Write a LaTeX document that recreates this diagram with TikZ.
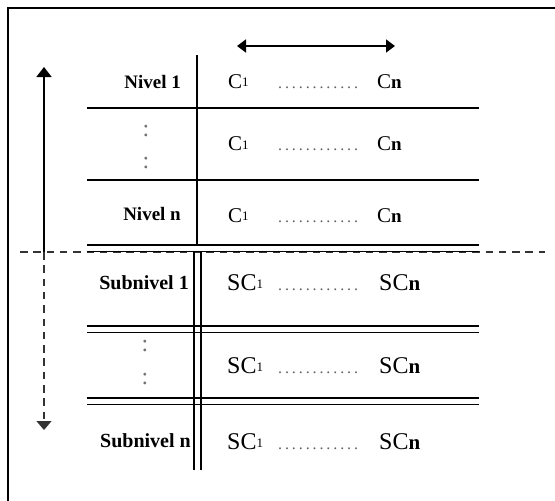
\documentclass[tikz,border=0pt]{standalone}
\usepackage{fontspec}
\setmainfont{Liberation Serif}
\usetikzlibrary{arrows.meta}
\newcommand\mysubone{\raisebox{1.2pt}{\fontsize{13}{13}\selectfont 1}}
\newcommand\mysubn{{\fontsize{19}{19}\selectfont\bfseries n}}
\newcommand\mysubnb{{\fontsize{21}{21}\selectfont\bfseries n}}
\newcommand\mydk{\kern2.9pt}
\newcommand\mydots{.\mydk.\mydk.\mydk.\mydk.\mydk.\mydk.\mydk.\mydk.\mydk.\mydk.\mydk.}
\begin{document}
\begin{tikzpicture}[x=1pt,y=-1pt,
  thickline/.style={line width=2pt},
  dblline/.style={line width=1.4pt},
  lbl/.style={anchor=base east, inner sep=0pt, font=\fontsize{19}{19}\selectfont\bfseries},
  sublbl/.style={anchor=base east, inner sep=0pt, font=\fontsize{20}{20}\selectfont\bfseries},
  ctext/.style={anchor=base west, inner sep=0pt, font=\fontsize{21}{21}\selectfont},
  sctext/.style={anchor=base west, inner sep=0pt, font=\fontsize{24}{24}\selectfont},
  dotrow/.style={anchor=base west, inner sep=0pt, text=black!62, font=\fontsize{16}{16}\selectfont},
  vdot/.style={anchor=base, inner sep=0pt, text=black!55, font=\fontsize{24}{24}\selectfont},
  tipend/.style={-{Triangle[length=10pt,width=15pt]}},
  dashline/.style={line width=1.4pt, draw=black!80, dash pattern=on 7.5pt off 5.8pt},
]
\useasboundingbox (0,0) rectangle (555,501);

% frame (top and left edges)
\draw[thickline] (555,8) -- (8,8) -- (8,501);

% horizontal dashed separator
\coordinate (dl) at (20,252);
\coordinate (dr) at (545,252);
\draw[dashline] (dl) -- (dr);

% vertical arrows
\coordinate (va) at (44,252);
\coordinate (vtop) at (44,67);
\coordinate (vbot) at (44,430);
\draw[line width=1.7pt, tipend] (va) -- (vtop);
\draw[dashline, -{Triangle[length=9pt,width=15pt]}] (va) -- (vbot);

% horizontal double arrow
\coordinate (ha) at (237,46);
\coordinate (hb) at (395,46);
\draw[line width=1.7pt, {Triangle[length=9pt,width=13pt]}-{Triangle[length=9pt,width=13pt]}] (ha) -- (hb);

% table lines: upper part
\draw[thickline] (196.5,55) -- (196.5,245);
\draw[thickline] (87,108) -- (479,108);
\draw[thickline] (87,180) -- (479,180);
% double lines
\foreach \yy in {245,326,398}{
  \draw[dblline] (87,\yy) -- (479,\yy);
  \draw[dblline] (87,\yy+6.5) -- (479,\yy+6.5);
}
\draw[dblline] (194,252) -- (194,470);
\draw[dblline] (201,252) -- (201,470);

% labels
\node[lbl] (n1) at (181,88) {Nivel 1};
\node[vdot] (v1a) at (146,136) {:};
\node[vdot] (v1b) at (146,168) {:};
\node[lbl] (nn) at (181,220) {Nivel n};
\node[sublbl] (s1) at (189,289) {Subnivel 1};
\node[vdot] (v2a) at (145,351) {:};
\node[vdot] (v2b) at (145,384) {:};
\node[sublbl] (sn) at (191,447) {Subnivel n};

% C rows
\node[ctext] (c1a) at (228,88) {C\mysubone};
\node[dotrow] (d1) at (278,88) {\mydots};
\node[ctext] (cna) at (377,88) {C\mysubn};

\node[ctext] (c1b) at (228,150.5) {C\mysubone};
\node[dotrow] (d2) at (278,150.5) {\mydots};
\node[ctext] (cnb) at (377,150.5) {C\mysubn};

\node[ctext] (c1c) at (228,222) {C\mysubone};
\node[dotrow] (d3) at (278,222) {\mydots};
\node[ctext] (cnc) at (377,222) {C\mysubn};

% SC rows
\node[sctext] (sc1a) at (227,290) {SC\mysubone};
\node[dotrow] (d4) at (278,290) {\mydots};
\node[sctext] (scna) at (379,290) {SC\mysubnb};

\node[sctext] (sc1b) at (227,373) {SC\mysubone};
\node[dotrow] (d5) at (278,373) {\mydots};
\node[sctext] (scnb) at (379,373) {SC\mysubnb};

\node[sctext] (sc1c) at (227,449) {SC\mysubone};
\node[dotrow] (d6) at (278,449) {\mydots};
\node[sctext] (scnc) at (379,449) {SC\mysubnb};
\end{tikzpicture}
\end{document}
